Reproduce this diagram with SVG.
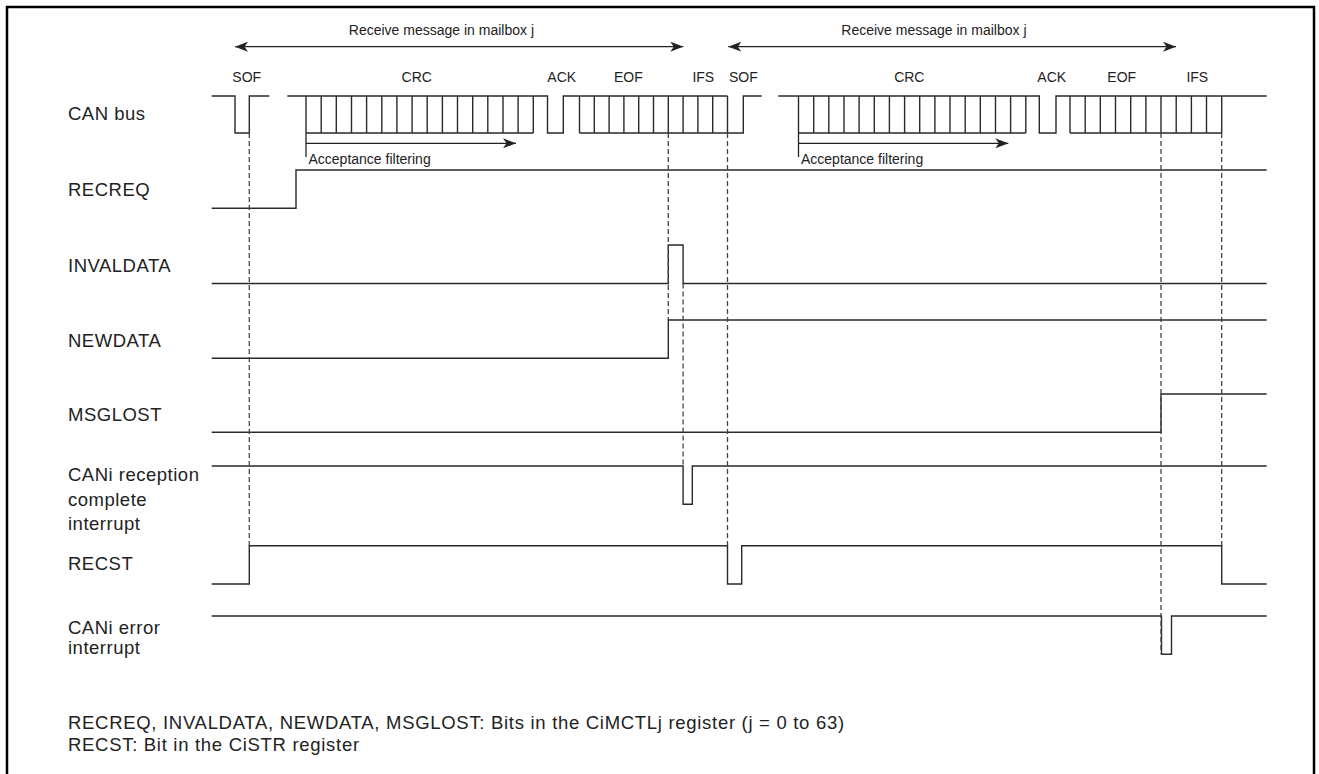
<svg xmlns="http://www.w3.org/2000/svg" width="1319" height="774" viewBox="0 0 1319 774">
<defs>
<marker id="ah" viewBox="0 0 13 10" refX="13" refY="5" markerWidth="13" markerHeight="10" markerUnits="userSpaceOnUse" orient="auto-start-reverse">
<path d="M0,0 L13,5 L0,10 L3.5,5 Z" fill="#222"/>
</marker>
<style>
.w{fill:none;stroke:#2a2a2a;stroke-width:1.4}
.d{fill:none;stroke:#444;stroke-width:1.3;stroke-dasharray:5,3}
.a{fill:none;stroke:#222;stroke-width:1.3}
.lbl{font-family:"Liberation Sans",Arial,sans-serif;font-size:18.5px;letter-spacing:0.5px;fill:#222}
.fn{font-family:"Liberation Sans",Arial,sans-serif;font-size:18.5px;letter-spacing:0.7px;fill:#222}
.sm{font-family:"Liberation Sans",Arial,sans-serif;font-size:14px;fill:#222}
.mid{text-anchor:middle}
</style>
</defs>
<rect x="0" y="0" width="1319" height="774" fill="#fff"/>
<path d="M7,774 V7 H1314 V774" fill="none" stroke="#000" stroke-width="2.5"/>

<g id="header">
<text class="sm" x="534" y="35" text-anchor="end">Receive message in mailbox j</text>
<text class="sm" x="1026.5" y="35" text-anchor="end">Receive message in mailbox j</text>
<text class="sm mid" x="246.7" y="82">SOF</text>
<text class="sm mid" x="416.7" y="82">CRC</text>
<text class="sm mid" x="561.7" y="82">ACK</text>
<text class="sm mid" x="628.3" y="82">EOF</text>
<text class="sm mid" x="703.3" y="82">IFS</text>
<text class="sm mid" x="743.3" y="82">SOF</text>
<text class="sm mid" x="909.3" y="82">CRC</text>
<text class="sm mid" x="1051.7" y="82">ACK</text>
<text class="sm mid" x="1121.7" y="82">EOF</text>
<text class="sm mid" x="1197.3" y="82">IFS</text>
</g>

<g id="canbus">
<text class="lbl" x="68" y="120">CAN bus</text>
<path class="w" d="M211.7,96 H235 V133 H249.3 V96 H269.3 M287.3,96 H306 M533.3,96 H547.5 V133 H563.3 V96 H579.5 M727.5,133 H743.3 V96 H761.7 M778.3,96 H798.5 M1025.8,96 H1039.3 V133 H1056 V96 H1070 M1221.7,96 H1266.7"/>
<path class="w" d="M306,96 H533.3 M306,133 H533.3 M306,96 V133 M321.2,96 V133 M336.3,96 V133 M351.5,96 V133 M366.6,96 V133 M381.8,96 V133 M396.9,96 V133 M412.1,96 V133 M427.2,96 V133 M442.4,96 V133 M457.5,96 V133 M472.7,96 V133 M487.8,96 V133 M503,96 V133 M518.1,96 V133 M533.3,96 V133"/>
<path class="w" d="M579.5,96 H727.5 M579.5,133 H727.5 M579.5,96 V133 M594.3,96 V133 M609.1,96 V133 M623.9,96 V133 M638.7,96 V133 M653.5,96 V133 M668.3,96 V133 M683.1,96 V133 M697.9,96 V133 M712.7,96 V133 M727.5,96 V133"/>
<path class="w" d="M798.5,96 H1025.8 M798.5,133 H1025.8 M798.5,96 V133 M813.7,96 V133 M828.8,96 V133 M844,96 V133 M859.1,96 V133 M874.3,96 V133 M889.4,96 V133 M904.6,96 V133 M919.7,96 V133 M934.9,96 V133 M950,96 V133 M965.2,96 V133 M980.3,96 V133 M995.5,96 V133 M1010.6,96 V133 M1025.8,96 V133"/>
<path class="w" d="M1070,96 H1221.7 M1070,133 H1221.7 M1070,96 V133 M1085.2,96 V133 M1100.3,96 V133 M1115.5,96 V133 M1130.7,96 V133 M1145.9,96 V133 M1161,96 V133 M1176.2,96 V133 M1191.4,96 V133 M1206.5,96 V133 M1221.7,96 V133"/>
<text class="sm" x="308.5" y="164">Acceptance filtering</text>
<text class="sm" x="801" y="164">Acceptance filtering</text>
</g>

<g id="recreq">
<text class="lbl" x="68" y="196">RECREQ</text>
<path class="w" d="M211.7,208.3 H296 V170 H1266.7"/>
</g>

<g id="invaldata">
<text class="lbl" x="68" y="272.3">INVALDATA</text>
<path class="w" d="M211.7,283.5 H668.3 V245 H683.1 V283.5 H1266.7"/>
</g>

<g id="newdata">
<text class="lbl" x="68" y="346.7">NEWDATA</text>
<path class="w" d="M211.7,358.3 H668.3 V320 H1266.7"/>
</g>

<g id="msglost">
<text class="lbl" x="68" y="420.5">MSGLOST</text>
<path class="w" d="M211.7,432.3 H1161 V394 H1266.7"/>
</g>

<g id="rxint">
<text class="lbl" x="68" y="481">CANi reception</text>
<text class="lbl" x="68" y="505.5">complete</text>
<text class="lbl" x="68" y="529.5">interrupt</text>
<path class="w" d="M211.7,466 H683.1 V504.3 H692.3 V466 H1266.7"/>
</g>

<g id="recst">
<text class="lbl" x="68" y="570">RECST</text>
<path class="w" d="M211.7,584 H249.3 V545.7 H727.5 V584 H741.7 V545.7 H1221.7 V584 H1266.7"/>
</g>

<g id="errint">
<text class="lbl" x="68" y="634">CANi error</text>
<text class="lbl" x="68" y="653.5">interrupt</text>
<path class="w" d="M211.7,616 H1161.5 V654.3 H1171.5 V616 H1266.7"/>
</g>

<g id="connectors">
<line class="a" x1="235" y1="46.7" x2="683.3" y2="46.7" marker-start="url(#ah)" marker-end="url(#ah)"/>
<line class="a" x1="728.3" y1="46.7" x2="1176" y2="46.7" marker-start="url(#ah)" marker-end="url(#ah)"/>
<path class="a" d="M306,133 V157"/>
<line class="a" x1="306" y1="143.3" x2="516" y2="143.3" marker-end="url(#ah)"/>
<path class="a" d="M798.5,133 V157"/>
<line class="a" x1="798.5" y1="143.3" x2="1008.3" y2="143.3" marker-end="url(#ah)"/>
<line class="d" x1="249.3" y1="133" x2="249.3" y2="545.7"/>
<line class="d" x1="668.3" y1="133" x2="668.3" y2="320"/>
<line class="d" x1="683.1" y1="283.5" x2="683.1" y2="466"/>
<line class="d" x1="727.5" y1="133" x2="727.5" y2="545.7"/>
<line class="d" x1="1161" y1="133" x2="1161" y2="654"/>
<line class="d" x1="1221.7" y1="133" x2="1221.7" y2="545.7"/>
</g>

<g id="notes">
<text class="fn" x="68" y="729">RECREQ, INVALDATA, NEWDATA, MSGLOST: Bits in the CiMCTLj register (j = 0 to 63)</text>
<text class="fn" x="68" y="751">RECST: Bit in the CiSTR register</text>
</g>
</svg>
